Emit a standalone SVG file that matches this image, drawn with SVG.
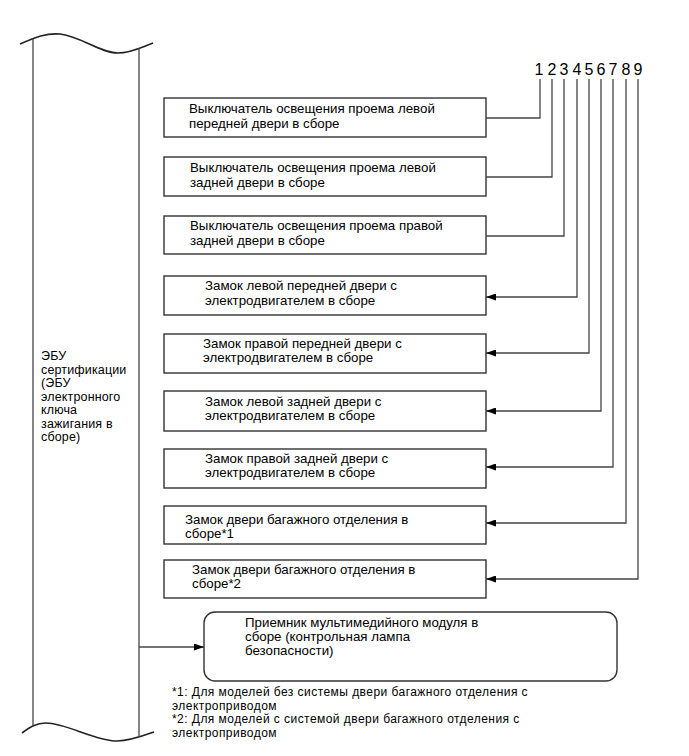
<svg xmlns="http://www.w3.org/2000/svg" width="689" height="756" viewBox="0 0 689 756">
<defs>
<style>
text{font-family:"Liberation Sans",Arial,sans-serif;font-size:13.3px;fill:#000}
.num{font-size:16px;text-anchor:middle}
.ecu{font-size:12.5px;letter-spacing:0.15px}
.fn{font-size:12px;letter-spacing:0.45px}
.box{fill:#fff;stroke:#333;stroke-width:1.4}
.ln{fill:none;stroke:#444;stroke-width:1.3}
.wave{fill:none;stroke:#222;stroke-width:1.6}
</style>
<marker id="ah" viewBox="0 0 10 7" refX="10" refY="3.5" markerWidth="10" markerHeight="7" markerUnits="userSpaceOnUse" orient="auto">
<path d="M0,0 L10,3.5 L0,7 Z" fill="#000"/>
</marker>
</defs>
<rect width="689" height="756" fill="#fff"/>

<g id="ecu">
<path class="wave" d="M20,44 C36,37 46,33 60,34 C80,36 100,53 118,53 C131,53 142,47 153,43"/>
<path class="wave" d="M22,733 C30,727 36,723 46,723 C66,723 95,741 117,741 C130,741 143,736 154,732"/>
<line class="ln" x1="33" y1="39" x2="33" y2="727"/>
<line class="ln" x1="139" y1="48" x2="139" y2="737"/>
<text class="ecu" x="41" y="360">ЭБУ</text>
<text class="ecu" x="41" y="373.5">сертификации</text>
<text class="ecu" x="41" y="387">(ЭБУ</text>
<text class="ecu" x="41" y="400.5">электронного</text>
<text class="ecu" x="41" y="414">ключа</text>
<text class="ecu" x="41" y="427.5">зажигания в</text>
<text class="ecu" x="41" y="441">сборе)</text>
</g>

<g id="numbers">
<text class="num" x="539" y="75">1</text>
<text class="num" x="552" y="75">2</text>
<text class="num" x="564" y="75">3</text>
<text class="num" x="577" y="75">4</text>
<text class="num" x="589" y="75">5</text>
<text class="num" x="601" y="75">6</text>
<text class="num" x="613" y="75">7</text>
<text class="num" x="626" y="75">8</text>
<text class="num" x="638" y="75">9</text>
</g>

<g id="n1"><rect class="box" x="164" y="98" width="322" height="39"/>
<text x="189" y="113">Выключатель освещения проема левой</text>
<text x="189" y="128">передней двери в сборе</text></g>
<g id="n2"><rect class="box" x="164" y="157" width="322" height="39"/>
<text x="190" y="172">Выключатель освещения проема левой</text>
<text x="190" y="187">задней двери в сборе</text></g>
<g id="n3"><rect class="box" x="164" y="216" width="322" height="38"/>
<text x="190" y="230">Выключатель освещения проема правой</text>
<text x="190" y="245">задней двери в сборе</text></g>
<g id="n4"><rect class="box" x="164" y="276" width="322" height="39"/>
<text x="205" y="290">Замок левой передней двери с</text>
<text x="205" y="305">электродвигателем в сборе</text></g>
<g id="n5"><rect class="box" x="164" y="334" width="322" height="39"/>
<text x="203" y="348">Замок правой передней двери с</text>
<text x="203" y="362">электродвигателем в сборе</text></g>
<g id="n6"><rect class="box" x="164" y="391" width="322" height="40"/>
<text x="205" y="406">Замок левой задней двери с</text>
<text x="205" y="420">электродвигателем в сборе</text></g>
<g id="n7"><rect class="box" x="164" y="449" width="322" height="39"/>
<text x="205" y="463">Замок правой задней двери с</text>
<text x="205" y="477">электродвигателем в сборе</text></g>
<g id="n8"><rect class="box" x="164" y="506" width="322" height="38"/>
<text x="185" y="524">Замок двери багажного отделения в</text>
<text x="185" y="538">сборе*1</text></g>
<g id="n9"><rect class="box" x="164" y="560" width="322" height="38"/>
<text x="192" y="574">Замок двери багажного отделения в</text>
<text x="192" y="588">сборе*2</text></g>
<g id="n10"><rect class="box" x="204" y="612" width="413" height="69" rx="11"/>
<text x="245" y="627">Приемник мультимедийного модуля в</text>
<text x="245" y="641">сборе (контрольная лампа</text>
<text x="245" y="655">безопасности)</text></g>

<g id="connectors">
<polyline class="ln" points="540,79 540,118 486,118"/>
<polyline class="ln" points="552,79 552,177 486,177"/>
<polyline class="ln" points="564,79 564,236 486,236"/>
<polyline class="ln" points="577,79 577,297 486,297" marker-end="url(#ah)"/>
<polyline class="ln" points="589,79 589,353 486,353" marker-end="url(#ah)"/>
<polyline class="ln" points="601,79 601,411 486,411" marker-end="url(#ah)"/>
<polyline class="ln" points="613,79 613,467 486,467" marker-end="url(#ah)"/>
<polyline class="ln" points="626,79 626,523 486,523" marker-end="url(#ah)"/>
<polyline class="ln" points="638,79 638,579 486,579" marker-end="url(#ah)"/>
<line class="ln" x1="139" y1="647" x2="204" y2="647" marker-end="url(#ah)"/>
</g>

<g id="footnotes">
<text class="fn" x="172" y="696">*1: Для моделей без системы двери багажного отделения с</text>
<text class="fn" x="172" y="709.5">электроприводом</text>
<text class="fn" x="172" y="723">*2: Для моделей с системой двери багажного отделения с</text>
<text class="fn" x="172" y="736.5">электроприводом</text>
</g>
</svg>
